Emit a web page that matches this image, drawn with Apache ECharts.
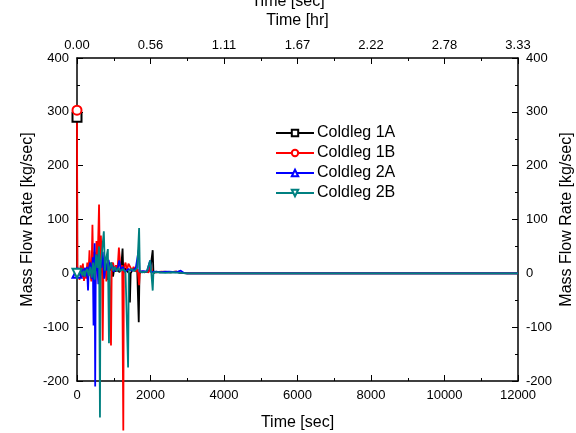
<!DOCTYPE html>
<html>
<head>
<meta charset="utf-8">
<script src="https://cdn.jsdelivr.net/npm/echarts@6/dist/echarts.min.js"></script>
<style>
  html, body { margin: 0; padding: 0; background: #fff; }
  #chart { width: 576px; height: 433px; }
</style>
</head>
<body>
<div id="chart"></div>
<script>
// [time (sec), mass flow rate (kg/sec)]
const coldleg1A = [[0,290],[8,6],[40,3],[80,-4],[120,5],[160,2],[200,8],[240,-3],[280,10],[320,4],[360,15],[400,-8],[440,20],[470,-15],[500,25],[540,5],[580,30],[620,-10],[660,18],[700,-5],[740,22],[780,8],[820,-12],[860,15],[900,5],[940,20],[980,-6],[1020,12],[1060,3],[1100,10],[1150,2],[1200,8],[1240,46],[1260,0],[1300,10],[1350,5],[1420,0],[1440,-54],[1460,0],[1520,8],[1580,5],[1640,3],[1680,-91],[1700,0],[1760,3],[1850,2],[1950,4],[2000,10],[2060,43],[2080,0],[2150,3],[2250,2],[2400,3],[2550,2],[2700,3],[2800,1],[3000,0],[12000,0]];
const coldleg1B = [[0,303],[10,12],[40,5],[70,-12],[100,15],[130,-8],[160,18],[190,-14],[220,10],[250,-10],[280,20],[310,-5],[340,43],[360,5],[390,-15],[420,90],[440,10],[470,40],[500,-20],[530,60],[560,15],[600,128],[620,20],[650,70],[680,10],[700,-125],[720,10],[760,30],[800,-15],[840,25],[880,5],[925,-134],[945,10],[980,20],[1020,5],[1060,15],[1100,3],[1140,48],[1170,45],[1190,5],[1230,15],[1260,-292],[1275,10],[1320,20],[1360,5],[1400,18],[1450,15],[1500,5],[1540,12],[1600,3],[1650,8],[1690,-22],[1710,3],[1760,2],[1850,3],[1950,2],[2000,15],[2050,3],[2150,2],[2300,3],[2500,2],[2700,3],[2850,1],[3000,0],[12000,0]];
const coldleg2A = [[0,0],[30,3],[60,-4],[90,6],[120,-3],[150,8],[180,-6],[210,10],[240,-5],[270,12],[300,-32],[320,8],[360,20],[400,-10],[430,30],[450,-97],[465,10],[480,56],[495,-210],[510,10],[540,35],[580,-20],[620,25],[660,10],[700,40],[740,-10],[780,20],[820,5],[860,25],[900,8],[960,15],[1000,3],[1050,10],[1100,5],[1150,24],[1200,5],[1250,12],[1300,3],[1400,8],[1500,5],[1600,10],[1680,44],[1700,3],[1800,4],[1900,3],[1990,24],[2010,2],[2100,3],[2300,2],[2500,3],[2700,2],[2820,5],[2900,1],[3000,0],[12000,0]];
const coldleg2B = [[0,0],[30,-3],[60,4],[90,-5],[120,3],[150,-4],[180,5],[210,-6],[240,4],[280,8],[320,-5],[360,12],[400,-8],[440,20],[480,-12],[520,35],[560,10],[600,50],[625,-268],[640,15],[680,40],[730,78],[760,5],[800,30],[840,45],[870,-130],[890,10],[930,20],[980,5],[1030,12],[1080,3],[1130,10],[1180,4],[1250,8],[1320,3],[1390,-175],[1410,5],[1480,8],[1560,4],[1640,10],[1690,84],[1710,3],[1780,2],[1900,3],[1990,24],[2020,3],[2060,-32],[2080,2],[2200,2],[2400,1],[2600,2],[2800,1],[3000,0],[12000,0]];

const seriesNames = ["Coldleg 1A", "Coldleg 1B", "Coldleg 2A", "Coldleg 2B"];
const seriesData = [coldleg1A, coldleg1B, coldleg2A, coldleg2B];
const colors = ["#000000", "#ff0000", "#0000ff", "#008080"];
const symbols = ["emptyRect", "emptyCircle", "emptyTriangle", "emptyTriangle"];
const rotates = [0, 0, 0, 180];

const font = "Liberation Sans, Arial, sans-serif";

const valueAxisY = (pos) => ({
  type: "value",
  position: pos,
  min: -200,
  max: 400,
  interval: 100,
  name: "Mass Flow Rate [kg/sec]",
  nameLocation: "middle",
  nameGap: 41,
  nameMoveOverlap: false,
  nameTextStyle: { color: "#000", fontSize: 16, fontFamily: font },
  axisLine: { show: true, onZero: false, lineStyle: { color: "#000", width: 1.5 } },
  axisTick: { show: true, inside: true, length: 6, lineStyle: { color: "#000" } },
  minorTick: { show: true, splitNumber: 2, length: 3, lineStyle: { color: "#000" } },
  axisLabel: { color: "#000", fontSize: 13, fontFamily: font, margin: 8 },
  splitLine: { show: false },
});

const option = {
  animation: false,
  title: {
    text: "Time [sec]",
    left: "center",
    top: -11,
    textStyle: { color: "#000", fontSize: 16, fontWeight: "normal", fontFamily: font },
  },
  grid: { left: 77, right: 58, top: 58, bottom: 52, outerBoundsMode: "none" },
  legend: {
    data: seriesNames,
    orient: "vertical",
    left: 270,
    top: 120,
    itemWidth: 38,
    itemHeight: 8,
    itemGap: 4,
    textStyle: { color: "#000", fontSize: 16, fontFamily: font, padding: [0, 0, 0, -2] },
  },
  xAxis: [
    {
      type: "value",
      position: "bottom",
      min: 0,
      max: 12000,
      interval: 2000,
      name: "Time [sec]",
      nameLocation: "middle",
      nameGap: 34,
      nameTextStyle: { color: "#000", fontSize: 16, fontFamily: font },
      axisLine: { show: true, onZero: false, lineStyle: { color: "#000", width: 1.5 } },
      axisTick: { show: true, inside: true, length: 6, lineStyle: { color: "#000" } },
      minorTick: { show: true, splitNumber: 2, length: 3, lineStyle: { color: "#000" } },
      axisLabel: { color: "#000", fontSize: 13, fontFamily: font, margin: 8, formatter: (v) => String(v) },
      splitLine: { show: false },
    },
    {
      type: "value",
      position: "top",
      min: 0,
      max: 12000,
      interval: 2000,
      name: "Time [hr]",
      nameLocation: "middle",
      nameGap: 29,
      nameTextStyle: { color: "#000", fontSize: 16, fontFamily: font },
      axisLine: { show: true, onZero: false, lineStyle: { color: "#000", width: 1.5 } },
      axisTick: { show: true, inside: true, length: 6, lineStyle: { color: "#000" } },
      minorTick: { show: true, splitNumber: 2, length: 3, lineStyle: { color: "#000" } },
      axisLabel: {
        color: "#000",
        fontSize: 13,
        fontFamily: font,
        margin: 6,
        formatter: (v) => (v / 3600).toFixed(2),
      },
      splitLine: { show: false },
    },
  ],
  yAxis: [valueAxisY("left"), valueAxisY("right")],
  series: seriesNames.map((name, i) => ({
    name,
    type: "line",
    xAxisIndex: 0,
    yAxisIndex: 0,
    clip: false,
    symbol: symbols[i],
    symbolSize: 9,
    symbolRotate: rotates[i],
    showSymbol: true,
    color: colors[i],
    lineStyle: { width: 1.8, color: colors[i] },
    itemStyle: { color: colors[i], borderWidth: 1.3 },
    data: seriesData[i].map((p, j) => (j === 0 ? { value: p } : { value: p, symbol: "none" })),
  })),
};

const myChart = echarts.init(document.getElementById("chart"));
myChart.setOption(option);
</script>
</body>
</html>
